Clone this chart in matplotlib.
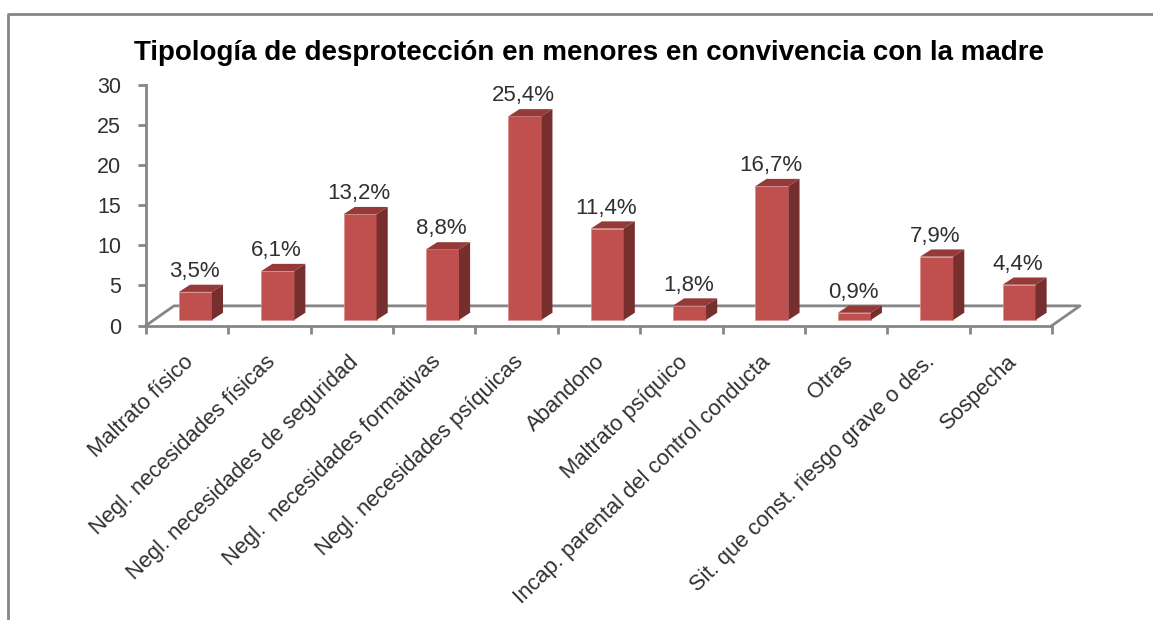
# Tipologia de desproteccion, 3D-look column chart
import matplotlib
matplotlib.use("Agg")
import matplotlib.pyplot as plt
from matplotlib.lines import Line2D

plt.rcParams['font.family'] = ['Liberation Sans', 'DejaVu Sans']

# Data
categories = ["Maltrato físico", "Negl. necesidades físicas", "Negl. necesidades de seguridad",
              "Negl.  necesidades formativas", "Negl. necesidades psíquicas", "Abandono",
              "Maltrato psíquico", "Incap. parental del control conducta", "Otras",
              "Sit. que const. riesgo grave o des.", "Sospecha"]
values = [3.5, 6.1, 13.2, 8.8, 25.4, 11.4, 1.8, 16.7, 0.9, 7.9, 4.4]
value_labels = ["3,5%", "6,1%", "13,2%", "8,8%", "25,4%", "11,4%", "1,8%", "16,7%", "0,9%", "7,9%", "4,4%"]
y_ticks = [0, 5, 10, 15, 20, 25, 30]
title = "Tipología de desprotección en menores en convivencia con la madre"

W, H = 1153, 620
GREY = "#868686"
TEXT = "#303030"

fig = plt.figure(figsize=(W / 100, H / 100), dpi=100)

# outer frame: only left and top are visible
fig.add_artist(Line2D([7.5 / W, 7.5 / W, 1], [0, 1 - 14 / H, 1 - 14 / H], transform=fig.transFigure,
                      color=GREY, lw=2))

# axes box in pixels: x 146-1052, y 85-325.5
ax = fig.add_axes([146 / W, 1 - 325.5 / H, 906 / W, 240.5 / H])
ax.set_xlim(-0.5, 10.5)
ax.set_ylim(0, 30)
ax.patch.set_alpha(0)

# depth of floor and of bars, in data units
floor_dx, floor_dy = 0.34, 2.45
bar_dx, bar_dy = 0.135, 0.9
bar_w = 0.4
bar_shift = 0.1
bar_base = 0.69

# floor
ax.plot([-0.5, -0.5 + floor_dx, 10.5 + floor_dx, 10.5], [0, floor_dy, floor_dy, 0],
        color=GREY, lw=2, clip_on=False, zorder=1)

for i, v in enumerate(values):
    x0 = i + bar_shift - bar_w / 2
    x1 = x0 + bar_w
    top = v + bar_base
    ax.bar(x0 + bar_w / 2, v, width=bar_w, bottom=bar_base, color="#C0504D",
           edgecolor="#D98E8C", lw=0.5, zorder=3)
    ax.fill([x0, x1, x1 + bar_dx, x0 + bar_dx], [top, top, top + bar_dy, top + bar_dy],
            color="#953A38", lw=0, zorder=3, clip_on=False)
    ax.fill([x1, x1 + bar_dx, x1 + bar_dx, x1], [bar_base, bar_base + bar_dy, top + bar_dy, top],
            color="#772F2D", lw=0, zorder=3, clip_on=False)
    ax.text(i - 0.05 + bar_dx, v + bar_base + bar_dy + 0.35, value_labels[i], ha="center", va="bottom",
            fontsize=16, color=TEXT, zorder=4)

for side in ["top", "right"]:
    ax.spines[side].set_visible(False)
for side in ["left", "bottom"]:
    ax.spines[side].set_color(GREY)
    ax.spines[side].set_linewidth(2)

ax.set_yticks(y_ticks)
ax.set_xticks([i - 0.5 for i in range(12)])
ax.set_xticklabels([])
ax.tick_params(axis="both", color=GREY, width=2, length=6, labelsize=15.5, labelcolor=TEXT)
ax.tick_params(axis="y", pad=12)

# category labels sit between the ticks
for i, c in enumerate(categories):
    ax.annotate(c, (i, 0), xytext=(-4, -26), xycoords="data", textcoords="offset pixels",
                rotation=44, rotation_mode="anchor", ha="right", va="top", fontsize=15.8, color=TEXT,
                annotation_clip=False)

fig.text(589 / W, 1 - 53 / H, title, ha="center", va="center", fontsize=20, fontweight="bold", color="black")

fig.savefig("out.png", dpi=100)
